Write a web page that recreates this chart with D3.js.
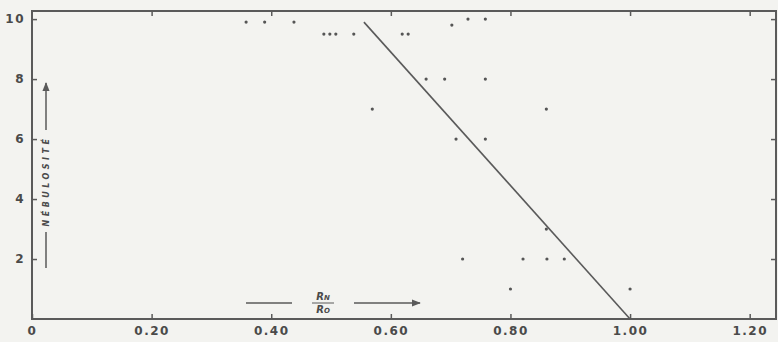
<!DOCTYPE html>
<html>
<head>
<meta charset="utf-8">
<script src="https://cdn.jsdelivr.net/npm/d3@7"></script>
<style>
body { margin: 0; background: #f3f3f0; }
svg { display: block; }
text { font-family: "DejaVu Sans", sans-serif; fill: #4a4a4a; }
</style>
</head>
<body>
<svg width="778" height="342"></svg>
<script>
// Rn/Ro ratio and cloudiness (nebulosite)
var ratio = [0.358, 0.389, 0.438, 0.488, 0.498, 0.508, 0.538, 0.619, 0.629,
             0.702, 0.729, 0.758, 0.659, 0.690, 0.758, 0.569, 0.860, 0.709, 0.758,
             0.860, 0.720, 0.821, 0.861, 0.890, 0.800, 1.000];
var cloud = [9.9, 9.9, 9.9, 9.5, 9.5, 9.5, 9.5, 9.5, 9.5,
             9.8, 10.0, 10.0, 8.0, 8.0, 8.0, 7.0, 7.0, 6.0, 6.0,
             3.0, 2.0, 2.0, 2.0, 2.0, 1.0, 1.0];

// fitted line ends
var fitX = [0.555, 1.0];
var fitY = [9.9, 0];

var xTicks = [0, 0.2, 0.4, 0.6, 0.8, 1.0, 1.2];
var xTickLabels = ["0", "0.20", "0.40", "0.60", "0.80", "1.00", "1.20"];
var yTicks = [2, 4, 6, 8, 10];
var yTickLabels = ["2", "4", "6", "8", "10"];

var svg = d3.select("svg");
var ink = "#5a5a5a";

var x = d3.scaleLinear().domain([0, 1.244]).range([32, 776]);
var y = d3.scaleLinear().domain([0, 10.27]).range([319, 11]);

// frame
svg.append("rect")
    .attr("x", x(0)).attr("y", y(10.27))
    .attr("width", x(1.244) - x(0)).attr("height", y(0) - y(10.27))
    .attr("fill", "none").attr("stroke", ink).attr("stroke-width", 2);

// axes with inward ticks
var bottom = svg.append("g").attr("transform", "translate(0," + y(0) + ")")
    .call(d3.axisBottom(x).tickValues(xTicks).tickSize(-5).tickPadding(7)
        .tickFormat(function (d, i) { return xTickLabels[i]; }));
var top = svg.append("g").attr("transform", "translate(0," + y(10.27) + ")")
    .call(d3.axisTop(x).tickValues(xTicks.slice(1)).tickSize(-5).tickFormat(""));
var left = svg.append("g").attr("transform", "translate(" + x(0) + ",0)")
    .call(d3.axisLeft(y).tickValues(yTicks).tickSize(-5).tickPadding(7)
        .tickFormat(function (d, i) { return yTickLabels[i]; }));
var right = svg.append("g").attr("transform", "translate(" + x(1.244) + ",0)")
    .call(d3.axisRight(y).tickValues(yTicks).tickSize(-5).tickFormat(""));

svg.selectAll(".domain").remove();
svg.selectAll(".tick line").attr("stroke", ink).attr("stroke-width", 1.5);
svg.selectAll(".tick text")
    .attr("fill", "#4a4a4a")
    .attr("font-size", 12)
    .attr("font-weight", "bold")
    .attr("letter-spacing", 1.5)
    .attr("font-family", "DejaVu Sans, sans-serif");
bottom.selectAll(".tick text").attr("dy", "0.71em");

// regression line
svg.append("line")
    .attr("x1", x(fitX[0])).attr("y1", y(fitY[0]))
    .attr("x2", x(fitX[1])).attr("y2", y(fitY[1]))
    .attr("stroke", ink).attr("stroke-width", 1.6);

// observations
svg.selectAll("circle.obs").data(ratio).enter().append("circle")
    .attr("class", "obs")
    .attr("cx", function (d) { return x(d); })
    .attr("cy", function (d, i) { return y(cloud[i]); })
    .attr("r", 1.6)
    .attr("fill", "#555");

// arrow marker
svg.append("defs").append("marker")
    .attr("id", "head").attr("viewBox", "0 0 10 10")
    .attr("refX", 9).attr("refY", 5)
    .attr("markerWidth", 6).attr("markerHeight", 6)
    .attr("orient", "auto")
    .append("path").attr("d", "M0,1 L10,5 L0,9 Z").attr("fill", ink);

// x label  Rn / Ro
svg.append("line").attr("x1", 246).attr("y1", 303).attr("x2", 292).attr("y2", 303)
    .attr("stroke", ink).attr("stroke-width", 1.5);
svg.append("line").attr("x1", 354).attr("y1", 303).attr("x2", 420).attr("y2", 303)
    .attr("stroke", ink).attr("stroke-width", 1.5).attr("marker-end", "url(#head)");
svg.append("line").attr("x1", 312).attr("y1", 303).attr("x2", 334).attr("y2", 303)
    .attr("stroke", ink).attr("stroke-width", 1);
svg.append("text").attr("x", 323).attr("y", 300).attr("text-anchor", "middle")
    .attr("font-size", 10).attr("font-style", "italic").attr("font-weight", "bold")
    .text("R").append("tspan").attr("font-size", 7).text("N");
svg.append("text").attr("x", 323).attr("y", 313).attr("text-anchor", "middle")
    .attr("font-size", 10).attr("font-style", "italic").attr("font-weight", "bold")
    .text("R").append("tspan").attr("font-size", 7).text("O");

// y label  Nebulosite
svg.append("line").attr("x1", 46).attr("y1", 130).attr("x2", 46).attr("y2", 83)
    .attr("stroke", ink).attr("stroke-width", 1.5).attr("marker-end", "url(#head)");
svg.append("line").attr("x1", 46).attr("y1", 232).attr("x2", 46).attr("y2", 268)
    .attr("stroke", ink).attr("stroke-width", 1.5);
svg.append("text")
    .attr("transform", "translate(49,181) rotate(-90)")
    .attr("text-anchor", "middle")
    .attr("font-size", 8).attr("font-style", "italic").attr("font-weight", "bold")
    .attr("letter-spacing", 3.5)
    .text("NÉBULOSITÉ");
</script>
</body>
</html>
